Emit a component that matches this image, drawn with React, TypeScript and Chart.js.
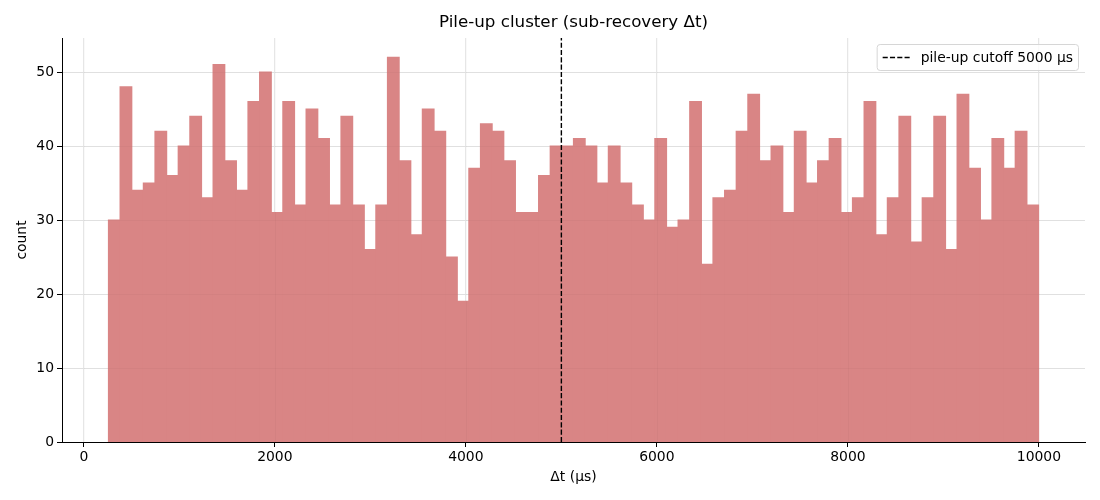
import React, { useEffect, useRef } from "react";
import Chart from "chart.js/auto";

// histogram of sub-recovery Δt (µs), 80 equal bins
const binLo = 258;
const binHi = 9996;
const counts = [
    30, 48, 34, 35, 42, 36, 40, 44, 33, 51,
    38, 34, 46, 50, 31, 46, 32, 45, 41, 32,
    44, 32, 26, 32, 52, 38, 28, 45, 42, 25,
    19, 37, 43, 42, 38, 31, 31, 36, 40, 40,
    41, 40, 35, 40, 35, 32, 30, 41, 29, 30,
    46, 24, 33, 34, 42, 47, 38, 40, 31, 42,
    35, 38, 41, 31, 33, 46, 28, 33, 44, 27,
    33, 44, 26, 47, 37, 30, 41, 37, 42, 32
];
const cutoff = 5000;
const xTicks = [0, 2000, 4000, 6000, 8000, 10000];
const yTicks = [0, 10, 20, 30, 40, 50];
const legendLabel = "pile-up cutoff 5000 μs";
const titleText = "Pile-up cluster (sub-recovery Δt)";

const FONT = "'DejaVu Sans', sans-serif";
const DASH = [5.1, 2.2];

// title centred over the plot area (matplotlib style), not the whole canvas
const axesTitle = {
    id: "axesTitle",
    afterDraw(chart: Chart) {
        const ctx = chart.ctx;
        const area = chart.chartArea;
        ctx.save();
        ctx.font = `16.7px ${FONT}`;
        ctx.fillStyle = "#000";
        ctx.textAlign = "center";
        ctx.textBaseline = "middle";
        ctx.fillText(titleText, (area.left + area.right) / 2, 23);
        ctx.restore();
    }
};

// legend box inside the axes, upper right
const legendInside = {
    id: "legendInside",
    afterDraw(chart: Chart) {
        const ctx = chart.ctx;
        const area = chart.chartArea;
        ctx.save();
        ctx.font = `13.9px ${FONT}`;
        const tw = ctx.measureText(legendLabel).width;
        const w = tw + 49;
        const h = 26;
        const x = area.right - 7 - w;
        const y = area.top + 6;
        ctx.beginPath();
        ctx.roundRect(x + 0.5, y + 0.5, w, h, 3);
        ctx.fillStyle = "rgba(255,255,255,0.8)";
        ctx.fill();
        ctx.strokeStyle = "#d6d6d6";
        ctx.lineWidth = 1;
        ctx.stroke();
        ctx.beginPath();
        ctx.setLineDash(DASH);
        ctx.strokeStyle = "#000";
        ctx.lineWidth = 1.4;
        ctx.moveTo(x + 6, y + h / 2 + 0.5);
        ctx.lineTo(x + 34, y + h / 2 + 0.5);
        ctx.stroke();
        ctx.setLineDash([]);
        ctx.fillStyle = "#000";
        ctx.textBaseline = "middle";
        ctx.fillText(legendLabel, x + 44, y + h / 2 + 1);
        ctx.restore();
    }
};

// faint grid over the bars, like a grid seen through translucent bars
const gridOver = {
    id: "gridOver",
    afterDatasetsDraw(chart: Chart) {
        const ctx = chart.ctx;
        const area = chart.chartArea;
        const xs = chart.scales.x;
        const ys = chart.scales.y;
        ctx.save();
        ctx.strokeStyle = "rgba(0,0,0,0.025)";
        ctx.lineWidth = 1;
        ctx.beginPath();
        xTicks.forEach((v) => {
            const px = Math.round(xs.getPixelForValue(v)) + 0.5;
            ctx.moveTo(px, area.top);
            ctx.lineTo(px, area.bottom);
        });
        yTicks.forEach((v) => {
            const py = Math.round(ys.getPixelForValue(v)) + 0.5;
            ctx.moveTo(area.left, py);
            ctx.lineTo(area.right, py);
        });
        ctx.stroke();
        ctx.restore();
    }
};

const App = () => {
    const canvasRef = useRef<HTMLCanvasElement | null>(null);
    const chartRef = useRef<Chart | null>(null);

    useEffect(() => {
        if (!canvasRef.current) return;
        const binWidth = (binHi - binLo) / counts.length;
        const yMax = Math.max(...counts) * 1.05;
        const margin = (binHi - binLo) * 0.05;

        chartRef.current = new Chart(canvasRef.current, {
            type: "bar",
            data: {
                datasets: [
                    {
                        type: "bar",
                        label: "counts",
                        data: counts.map((c, i) => ({ x: binLo + (i + 0.5) * binWidth, y: c })),
                        backgroundColor: "rgb(217,133,133)",
                        borderWidth: 0,
                        inflateAmount: 0.6,
                        barPercentage: 1,
                        categoryPercentage: 1,
                        order: 2
                    },
                    {
                        type: "line",
                        label: legendLabel,
                        data: [{ x: cutoff, y: 0 }, { x: cutoff, y: yMax }],
                        borderColor: "#000",
                        borderWidth: 1.4,
                        borderDash: DASH,
                        pointRadius: 0,
                        order: 1
                    }
                ]
            } as any,
            options: {
                responsive: false,
                animation: false,
                layout: { padding: { left: 14, right: 15, top: 38, bottom: 8 } },
                plugins: {
                    legend: { display: false },
                    tooltip: { enabled: false },
                    title: { display: false }
                },
                scales: {
                    x: {
                        type: "linear",
                        offset: false,
                        min: binLo - margin,
                        max: binHi + margin,
                        afterBuildTicks: (s: any) => { s.ticks = xTicks.map((v) => ({ value: v })); },
                        afterFit: (s: any) => { s.height = 50; },
                        ticks: {
                            color: "#000",
                            font: { family: FONT, size: 13.9 },
                            padding: 2,
                            maxRotation: 0,
                            callback: (v: any) => String(v)
                        },
                        grid: { offset: false, color: "#e6e6e6", tickColor: "#000", tickLength: 5, lineWidth: 1 },
                        border: { color: "#000", width: 1 },
                        title: {
                            display: true,
                            text: "Δt (μs)",
                            color: "#000",
                            font: { family: FONT, size: 13.9 },
                            padding: { top: 0, bottom: 6 }
                        }
                    },
                    y: {
                        type: "linear",
                        min: 0,
                        max: yMax,
                        afterBuildTicks: (s: any) => { s.ticks = yTicks.map((v) => ({ value: v })); },
                        afterFit: (s: any) => { s.width = 48; },
                        ticks: {
                            color: "#000",
                            font: { family: FONT, size: 13.9 },
                            padding: 3
                        },
                        grid: { color: "#e6e6e6", tickColor: "#000", tickLength: 5, lineWidth: 1 },
                        border: { color: "#000", width: 1 },
                        title: {
                            display: true,
                            text: "count",
                            color: "#000",
                            font: { family: FONT, size: 13.9 },
                            padding: { top: 0, bottom: 2 }
                        }
                    }
                }
            },
            plugins: [gridOver, legendInside, axesTitle]
        });

        return () => {
            if (chartRef.current) {
                chartRef.current.destroy();
                chartRef.current = null;
            }
        };
    }, []);

    return (
        <div style={{ position: "absolute", left: 0, top: 0, width: 1100, height: 500, background: "#fff" }}>
            <canvas ref={canvasRef} width={1100} height={500} />
        </div>
    );
};

export default App;
